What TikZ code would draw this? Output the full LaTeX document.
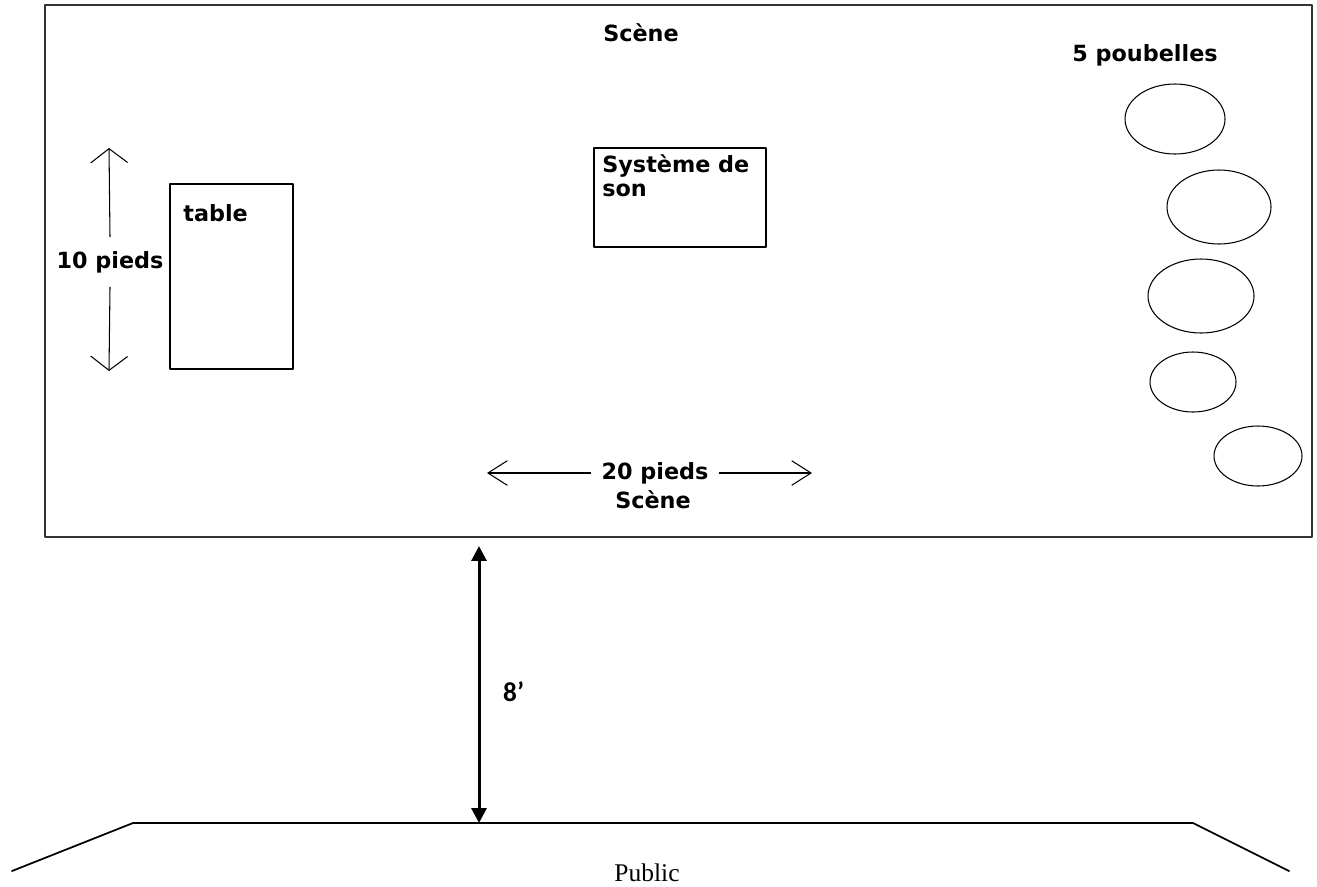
\documentclass[tikz,border=0pt]{standalone}
\usepackage{fontspec}
\setmainfont{Liberation Serif}
\newfontfamily\plansf{DejaVu Sans}
\newfontfamily\calib{Carlito}
\usetikzlibrary{arrows.meta}
\begin{document}
\begin{tikzpicture}[x=0.02cm, y=-0.02cm, line join=round, line cap=round,
	lbl/.style={font=\plansf\bfseries\fontsize{12.7}{13.6}\selectfont, inner sep=0pt},
	cote/.style={line width=0.6pt, -{Straight Barb[length=8pt, width=21pt, line width=0.6pt]}},
	coteh/.style={line width=0.6pt, -{Straight Barb[length=11pt, width=14pt, line width=0.6pt]}}]
	\useasboundingbox (0,0) rectangle (1317,886);
	% scene
	\draw[line width=1pt, black!80] (45,5) rectangle (1312,537);
	\node[lbl] (scene) at (641,33) {Scène};
	\node[lbl, anchor=east] (poub) at (1218,55) {5 poubelles};
	\foreach \cx/\cy/\rx/\ry in {1175/119/50/35, 1219/207/52/37, 1201/296/53/37, 1193/382/43/30, 1258/456/44/30}
		\draw[line width=0.6pt] (\cx,\cy) ellipse [x radius=\rx, y radius=\ry];
	% table et son
	\draw[line width=0.6pt] (170,184) rectangle (293,369);
	\node[lbl, anchor=west] (table) at (183,213) {table};
	\draw[line width=0.6pt] (594,148) rectangle (766,247);
	\node[lbl, anchor=north west, align=left] (son) at (602,154) {Système de\\son};
	% cotes
	\node[lbl, inner ysep=8pt] (p10) at (110,262) {10 pieds};
	\coordinate (h10) at (109,148);
	\coordinate (b10) at (109,371);
	\draw[cote] (p10.north) -- (h10);
	\draw[cote] (p10.south) -- (b10);
	\node[lbl, inner xsep=6pt] (p20) at (655,473) {20 pieds};
	\node[lbl] (scene2) at (653,500) {Scène};
	\coordinate (g20) at (487,473);
	\coordinate (d20) at (812,473);
	\draw[coteh] (p20.west) -- (g20);
	\draw[coteh] (p20.east) -- (d20);
	% public
	\coordinate (pg) at (133,823);
	\coordinate (pd) at (1193,823);
	\draw[line width=1pt] (12,871) -- (pg) -- (pd) -- (1289,871);
	\node[font=\fontsize{14.5}{16}\selectfont] (public) at (647,873) {Public};
	\coordinate (s8) at (479,546);
	\coordinate (p8) at (s8 |- pg);
	\draw[line width=1.7pt, {Triangle[length=8.5pt, width=8.5pt]}-{Triangle[length=8.5pt, width=8.5pt]}] (s8) -- (p8);
	\node[font=\calib\bfseries\fontsize{15.5}{17}\selectfont, anchor=west] (huit) at (497,692) {8’};
\end{tikzpicture}
\end{document}
